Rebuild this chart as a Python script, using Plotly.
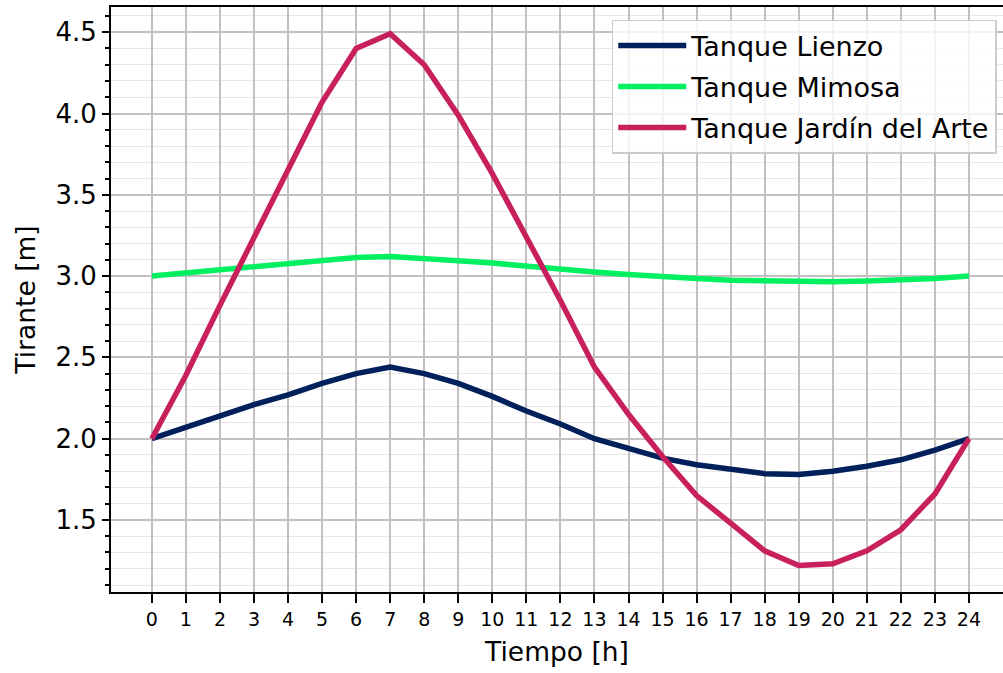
import plotly.graph_objects as go

hours = list(range(25))
lienzo = [2.00, 2.07, 2.14, 2.21, 2.27, 2.34, 2.40, 2.44, 2.40, 2.34, 2.26, 2.17, 2.09,
          2.00, 1.94, 1.88, 1.84, 1.81, 1.785, 1.78, 1.80, 1.83, 1.87, 1.93, 2.00]
mimosa = [3.00, 3.02, 3.04, 3.06, 3.08, 3.10, 3.115, 3.12, 3.11, 3.095, 3.08, 3.06, 3.04,
          3.025, 3.01, 2.995, 2.985, 2.975, 2.97, 2.965, 2.965, 2.97, 2.975, 2.985, 3.00]
jardin = [2.00, 2.39, 2.82, 3.24, 3.65, 4.07, 4.40, 4.49, 4.30, 3.99, 3.63, 3.24, 2.85,
          2.44, 2.15, 1.89, 1.65, 1.48, 1.31, 1.22, 1.23, 1.31, 1.44, 1.66, 2.00]
names = ["Tanque Lienzo", "Tanque Mimosa", "Tanque Jardín del Arte"]
colors = ["#00205B", "#00F060", "#C8205C"]
x_ticks = list(range(25))
y_ticks = [1.5, 2.0, 2.5, 3.0, 3.5, 4.0, 4.5]

font = "DejaVu Sans, Verdana, sans-serif"
fig = go.Figure()
for i, (name, ys, c) in enumerate(zip(names, [lienzo, mimosa, jardin], colors)):
    fig.add_trace(go.Scatter(x=hours, y=ys, mode="lines", name=name, legendgroup=f"g{i}",
                             line=dict(color=c, width=5.5)))

fig.update_layout(
    width=1003, height=673,
    margin=dict(l=111, r=0, t=7, b=81, autoexpand=False),
    plot_bgcolor="white", paper_bgcolor="white",
    font=dict(family=font, color="black", size=26),
    legend=dict(x=0.993, y=0.978, xanchor="right", yanchor="top",
                bgcolor="rgba(255,255,255,0.8)", bordercolor="#CCCCCC", borderwidth=1.5,
                font=dict(size=27, family=font), itemwidth=68, tracegroupgap=3,
                traceorder="grouped"),
    xaxis=dict(range=[-1.2, 25.0], tickvals=x_ticks, ticktext=[str(t) for t in x_ticks],
               tickfont=dict(size=19), ticks="outside", ticklen=9, tickwidth=2, tickcolor="black",
               showline=True, linecolor="black", linewidth=2, mirror=True,
               showgrid=True, gridcolor="#C4C0C0", gridwidth=1.5, zeroline=False,
               automargin=False,
               title=dict(text="Tiempo [h]", font=dict(size=26.5), standoff=14)),
    yaxis=dict(range=[1.057, 4.655], tickvals=y_ticks, ticktext=[f"{v:.1f}" for v in y_ticks],
               tickfont=dict(size=26), ticks="outside", ticklen=7, tickwidth=2, tickcolor="black",
               showline=True, linecolor="black", linewidth=2, automargin=False,
               showgrid=True, gridcolor="#C4C0C0", gridwidth=1.5, zeroline=False,
               minor=dict(dtick=0.1, tick0=0, ticks="outside", ticklen=4, tickwidth=1.5,
                          tickcolor="black", showgrid=True, gridcolor="#E8E6E6", gridwidth=1),
               title=dict(text="Tirante [m]", font=dict(size=26.5), standoff=12)),
)
fig.write_html("out.html", config={"displayModeBar": False},
               post_script="document.body.style.margin='0px';")
